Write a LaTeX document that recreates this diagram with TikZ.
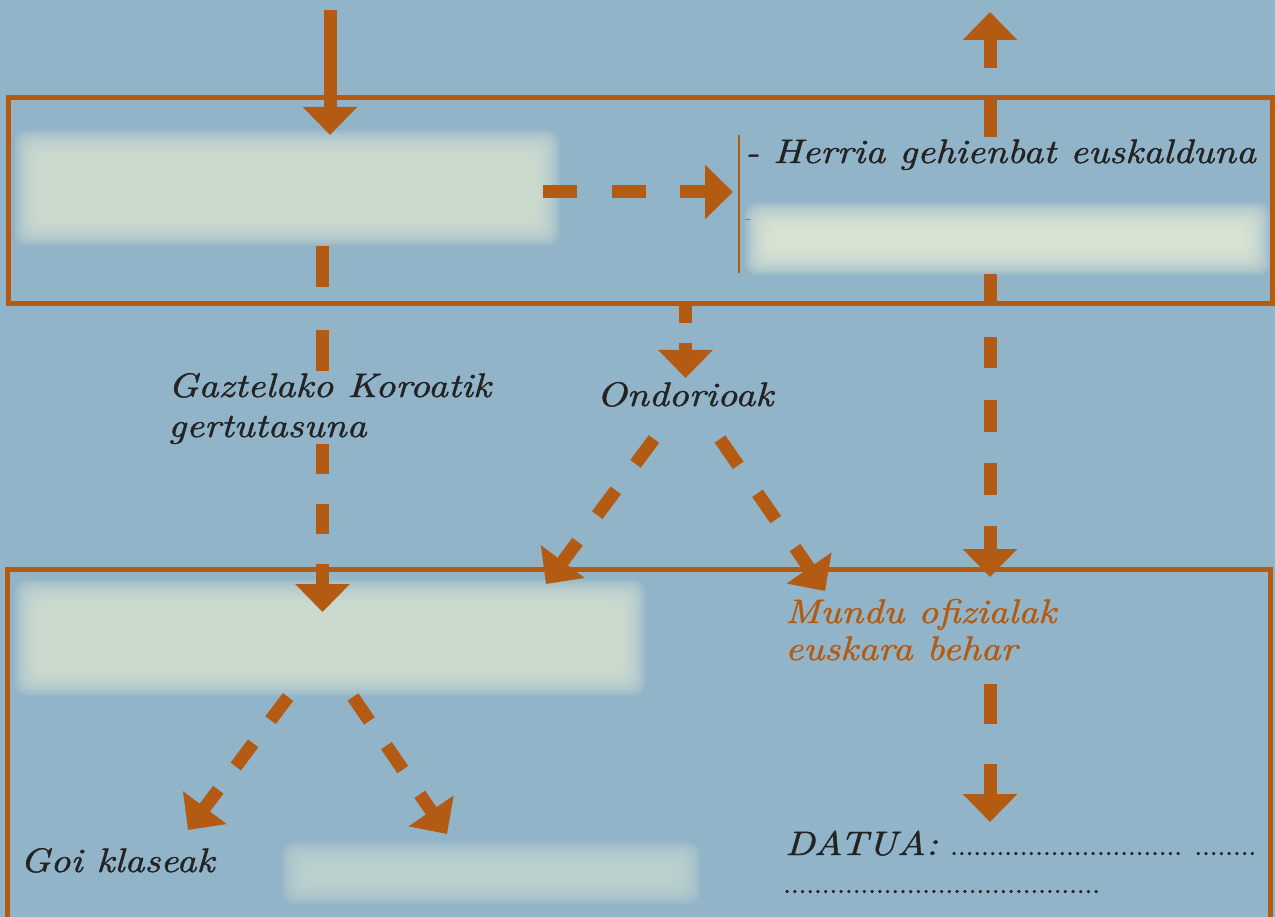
\documentclass[tikz,border=0pt]{standalone}
\usepackage{fontspec}
\newfontfamily\scr{lmroman10-italic.otf}[FakeStretch=1.15,FakeBold=1.2]
\newfontfamily\dotf{lmroman10-regular.otf}[FakeBold=1.5]
\usetikzlibrary{arrows.meta,calc}
\definecolor{bg}{HTML}{92B4C8}
\definecolor{brn}{HTML}{B35B12}
\definecolor{ink}{HTML}{232323}
\definecolor{paleA}{HTML}{D6E2D3}
\definecolor{paleB}{HTML}{E3EBD6}
\definecolor{paleC}{HTML}{C4D7D3}
\tikzset{
  frame/.style={draw=brn, line width=5pt},
  arr/.style={draw=brn, line width=13pt, -{Triangle[length=28pt,width=53pt]}},
  lnk/.style={draw=brn, line width=13pt},
  thin/.style={draw=brn, line width=2.5pt},
  lbl/.style={font=\scr\fontsize{34}{40}\selectfont, text=ink, inner sep=0pt, anchor=base west},
  olbl/.style={lbl, text=brn},
  dots/.style={font=\dotf\fontsize{27.8}{32}\selectfont, text=ink, inner sep=0pt, anchor=base west},
  area/.style={inner sep=0pt, draw=none},
}
\newcommand\blurbox[6]{% name, cx, cy, w, h, colour
  \foreach \i in {0,...,10}{
    \pgfmathsetmacro\ww{#4+10-5*\i}
    \pgfmathsetmacro\hh{#5+10-5*\i}
    \node[fill=#6, fill opacity=0.18, inner sep=0pt, rounded corners=12pt,
          minimum width=\ww pt, minimum height=\hh pt] at (#2,#3) {};
  }
  \node[area, minimum width=#4pt, minimum height=#5pt] (#1) at (#2,#3) {};
}
\begin{document}
\begin{tikzpicture}[x=1pt,y=-1pt]
  \fill[bg] (0,0) rectangle (1275,917);
  \useasboundingbox (0,0) rectangle (1275,917);
  \begin{scope}
  \clip (0,0) rectangle (1275,917);
  % frames
  \node[area, minimum width=1263pt, minimum height=205pt] (topbox) at (640.5,200.5) {};
  \draw[frame] (topbox.north west) rectangle (topbox.south east);
  \node[area, minimum width=1262pt, minimum height=380pt] (botbox) at (639,760) {};
  \draw[frame] (botbox.north west) rectangle (botbox.south east);

  % blurred boxes
  \blurbox{b1}{287}{188}{535}{105}{paleA}
  \blurbox{b2}{1007.5}{239}{515}{62}{paleB}
  \blurbox{b3}{330}{637.5}{620}{105}{paleA}
  \blurbox{b4}{491}{873}{408}{52}{paleC}

  % right panel of the top box
  \node[area, minimum width=531pt, minimum height=138pt] (rp) at (1004.5,204) {};
  \draw[thin] (rp.north west) -- (rp.south west);
  \node[lbl] (herria) at (745,163) {- Herria gehienbat euskalduna};
  \draw[gray, line width=0.8pt] (745,219) -- (751,219);

  % labels
  \node[lbl] (g1) at (168,397) {Gaztelako Koroatik};
  \node[lbl] (g2) at (168,437) {gertutasuna};
  \node[lbl, anchor=base] (ond) at (685,406) {Ondorioak};
  \node[olbl] (m1) at (785,623) {Mundu ofizialak};
  \node[olbl] (m2) at (785,660) {euskara behar};
  \node[lbl] (goi) at (20,872) {Goi klaseak};
  \node[lbl] (datua) at (785,855) {DATUA:};
  \node[dots] (d1) at (950,855) {.............................. ........};
  \node[dots] (d2) at (783,893) {.........................................};

  % coordinates
  \coordinate (inA) at (330,10);
  \coordinate (tipA) at (330,135);
  \coordinate (hA) at (543,192);
  \coordinate (hB) at (733,192);
  \coordinate (upA) at (990,137);
  \coordinate (upB) at (990,12);
  \coordinate (dnA) at (990,274);
  \coordinate (dnB) at (990,577);
  \coordinate (gx) at (322.5,612);
  \coordinate (oA) at (685.5,303);
  \coordinate (oB) at (685.5,378);
  \coordinate (lA) at (654,439);
  \coordinate (lB) at (546,584);
  \coordinate (rA) at (720,439);
  \coordinate (rB) at (825,591);
  \coordinate (llA) at (288,697);
  \coordinate (llB) at (188,830);
  \coordinate (lrA) at (353,697);
  \coordinate (lrB) at (447,834);
  \coordinate (mA) at (990,684);
  \coordinate (mB) at (990,822);

  % connectors
  \draw[arr] (inA) -- (tipA);
  \draw[arr, dash pattern=on 34pt off 34.5pt] (hA) -- (hB);
  \draw[arr, dash pattern=on 37pt off 32pt] (upA) -- (upB);
  \draw[arr, dash pattern=on 31.5pt off 31.5pt] (dnA) -- (dnB);
  \draw[lnk, dash pattern=on 41pt off 43pt] ($(b1.south -| gx)+(0,5)$) -- ($(g1.north -| gx)+(0,-2)$);
  \draw[arr, dash pattern=on 30pt off 30pt] (g2.south -| gx) -- (gx);
  \draw[arr, dash pattern=on 20pt off 20pt] (oA) -- (oB);
  \draw[arr, dash pattern=on 31pt off 33pt] (lA) -- (lB);
  \draw[arr, dash pattern=on 32pt off 34pt] (rA) -- (rB);
  \draw[arr, dash pattern=on 29pt off 29pt] (llA) -- (llB);
  \draw[arr, dash pattern=on 29pt off 30pt] (lrA) -- (lrB);
  \draw[arr, dash pattern=on 40pt off 40pt] (mA) -- (mB);
  \end{scope}
\end{tikzpicture}
\end{document}
